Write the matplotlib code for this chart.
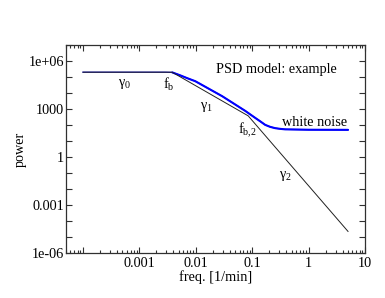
import matplotlib
matplotlib.use("Agg")
import matplotlib.pyplot as plt
from matplotlib.ticker import FixedLocator, FixedFormatter, NullFormatter

# ---- data ----
model_f = [1e-4, 0.0038, 0.085, 5.0]
model_p = [2.0e5, 2.0e5, 372.0, 2.23e-5]

data_f = [1e-4, 0.001, 0.00288, 0.00384, 0.00532, 0.00708, 0.0098, 0.0294,
          0.0752, 0.0922, 0.113, 0.139, 0.170, 0.208, 0.255, 0.313, 0.384, 1.0, 5.0]
data_p = [2.0e5, 2.0e5, 2.0e5, 1.93e5, 1.26e5, 8.4e4, 5.46e4, 6.3e3,
          764.0, 461.0, 279.0, 169.0, 102.0, 76.6, 63.5, 57.4, 53.5, 50.5, 49.7]

xtick_vals = [1e-4, 1e-3, 1e-2, 1e-1, 1, 10]
xtick_labels = ["", "0.001", "0.01", "0.1", "1", "10"]
ytick_vals = [1e-6, 1e-3, 1, 1e3, 1e6]
ytick_labels = ["1e-06", "0.001", "1", "1000", "1e+06"]

plt.rcParams['font.family'] = ['Liberation Serif', 'DejaVu Serif']
plt.rcParams['mathtext.fontset'] = 'custom'
plt.rcParams['mathtext.rm'] = 'Liberation Serif'
plt.rcParams['mathtext.it'] = 'Liberation Serif'

FS = 10.3
fig = plt.figure(figsize=(3.85, 2.98), dpi=100)
ax = fig.add_axes([66/385, 1 - 253/298, (365-66)/385, (253-45)/298])

ax.set_xscale('log')
ax.set_yscale('log')
ax.set_xlim(5e-5, 10)
ax.set_ylim(1e-6, 1e7)

# thin blue at low frequencies, thicker noisy-looking part beyond
ax.plot(data_f, data_p, color='#1010d0', lw=0.9, zorder=3)
ax.plot(data_f[3:], data_p[3:], color='#0000ff', lw=1.5, zorder=3,
        solid_joinstyle='round', solid_capstyle='round')
ax.plot(model_f, model_p, color='#202020', lw=0.7, zorder=4)

# ticks
ax.xaxis.set_major_locator(FixedLocator(xtick_vals))
ax.xaxis.set_major_formatter(FixedFormatter(xtick_labels))
xminor = []
for d in [1e-5, 1e-4, 1e-3, 1e-2, 1e-1, 1]:
    for m in range(2, 10):
        v = m * d
        if 5e-5 <= v <= 10:
            xminor.append(v)
ax.xaxis.set_minor_locator(FixedLocator(xminor))
ax.xaxis.set_minor_formatter(NullFormatter())

ax.yaxis.set_major_locator(FixedLocator(ytick_vals))
ax.yaxis.set_major_formatter(FixedFormatter(ytick_labels))
ax.yaxis.set_minor_locator(FixedLocator([10.0**k for k in range(-6, 8) if k % 3 != 0]))
ax.yaxis.set_minor_formatter(NullFormatter())

ax.tick_params(axis='both', which='both', direction='in', top=True, right=True,
               width=0.8, color='#303030', labelsize=FS)
ax.tick_params(axis='x', which='major', length=4.3, pad=3)
ax.tick_params(axis='x', which='minor', length=2.2)
ax.tick_params(axis='y', which='major', length=4.0, pad=1.5)
ax.tick_params(axis='y', which='minor', length=4.0)
for s in ax.spines.values():
    s.set_linewidth(0.9)
    s.set_color('#303030')

ax.set_xlabel('freq. [1/min]', fontsize=FS, labelpad=0)
ax.set_ylabel('power', fontsize=FS, labelpad=1)

# annotations (figure pixel positions converted to axes fraction)
def axpos(px, py):
    return ((px - 66) / 299.0, (253 - py) / 208.0)

ax.text(*axpos(276, 70), 'PSD model: example', transform=ax.transAxes,
        fontsize=FS, ha='center', va='center')
ax.text(*axpos(125, 84), r'$\mathrm{\gamma}_\mathrm{0}$', transform=ax.transAxes,
        fontsize=FS, ha='center', va='center')
ax.text(*axpos(169, 84), r'$\mathrm{f}_\mathrm{b}$', transform=ax.transAxes,
        fontsize=FS, ha='center', va='center')
ax.text(*axpos(206, 107), r'$\mathrm{\gamma}_\mathrm{1}$', transform=ax.transAxes,
        fontsize=FS, ha='center', va='center')
ax.text(*axpos(247, 130), r'$\mathrm{f}_\mathrm{b{,}2}$', transform=ax.transAxes,
        fontsize=FS, ha='center', va='center')
ax.text(*axpos(285, 176), r'$\mathrm{\gamma}_\mathrm{2}$', transform=ax.transAxes,
        fontsize=FS, ha='center', va='center')
ax.text(*axpos(315, 122), 'white noise', transform=ax.transAxes,
        fontsize=FS, ha='center', va='center')

fig.savefig('out.png', dpi=100)
